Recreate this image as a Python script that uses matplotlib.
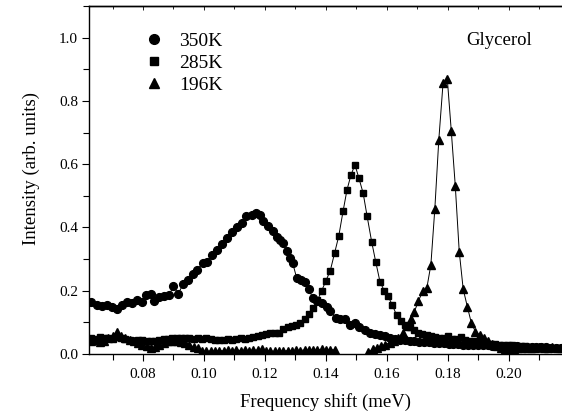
import numpy as np
import matplotlib.pyplot as plt
from matplotlib.lines import Line2D
from matplotlib.ticker import MultipleLocator, FormatStrFormatter

plt.rcParams['font.family'] = ['Liberation Serif', 'DejaVu Serif']

# 350K (circles)
x_350 = [0.0629, 0.0648, 0.0665, 0.0681, 0.0697, 0.0714, 0.0730, 0.0747, 0.0763, 0.0779,
         0.0796, 0.0810, 0.0825, 0.0836, 0.0853, 0.0870, 0.0886, 0.0899, 0.0916, 0.0932,
         0.0949, 0.0963, 0.0978, 0.0996, 0.1011, 0.1027, 0.1044, 0.1060, 0.1074, 0.1091,
         0.1107, 0.1124, 0.1138, 0.1156, 0.1170, 0.1183, 0.1195, 0.1211, 0.1225, 0.1238,
         0.1250, 0.1260, 0.1272, 0.1282, 0.1291, 0.1304, 0.1317, 0.1331, 0.1345, 0.1356,
         0.1370, 0.1386, 0.1404, 0.1413, 0.1433, 0.1446, 0.1462, 0.1479, 0.1495, 0.1509,
         0.1528, 0.1544, 0.1561, 0.1577, 0.1593, 0.1610, 0.1626, 0.1642, 0.1658, 0.1674,
         0.1690, 0.1706, 0.1722, 0.1738, 0.1754, 0.1770, 0.1786, 0.1802, 0.1818, 0.1834,
         0.1850, 0.1866, 0.1882, 0.1898, 0.1914, 0.1930, 0.1946, 0.1962, 0.1978, 0.1994,
         0.2010, 0.2026, 0.2042, 0.2058, 0.2074, 0.2090, 0.2106, 0.2122, 0.2138, 0.2154,
         0.2170]
y_350 = [0.164, 0.156, 0.151, 0.154, 0.149, 0.142, 0.156, 0.164, 0.161, 0.170,
         0.164, 0.186, 0.190, 0.169, 0.179, 0.182, 0.186, 0.214, 0.191, 0.222,
         0.235, 0.253, 0.267, 0.288, 0.291, 0.314, 0.330, 0.348, 0.367, 0.386,
         0.401, 0.415, 0.436, 0.439, 0.446, 0.440, 0.422, 0.405, 0.390, 0.369,
         0.360, 0.350, 0.325, 0.303, 0.287, 0.240, 0.234, 0.229, 0.205, 0.176,
         0.166, 0.160, 0.150, 0.137, 0.113, 0.110, 0.110, 0.092, 0.099, 0.086,
         0.076, 0.067, 0.063, 0.060, 0.057, 0.050, 0.046, 0.044, 0.043, 0.042,
         0.040, 0.039, 0.038, 0.037, 0.036, 0.035, 0.034, 0.033, 0.032, 0.031,
         0.030, 0.030, 0.029, 0.028, 0.027, 0.027, 0.026, 0.026, 0.025, 0.025,
         0.024, 0.024, 0.023, 0.023, 0.022, 0.022, 0.021, 0.021, 0.020, 0.020,
         0.019]

# 285K (squares)
x_285 = [0.0630, 0.0644, 0.0658, 0.0672, 0.0686, 0.0700, 0.0714, 0.0728, 0.0742, 0.0756,
         0.0770, 0.0784, 0.0798, 0.0812, 0.0826, 0.0840, 0.0854, 0.0868, 0.0882, 0.0896,
         0.0910, 0.0924, 0.0938, 0.0952, 0.0966, 0.0980, 0.0994, 0.1008, 0.1022, 0.1036,
         0.1050, 0.1064, 0.1078, 0.1092, 0.1106, 0.1120, 0.1134, 0.1148, 0.1162, 0.1176,
         0.1190, 0.1204, 0.1218, 0.1232, 0.1246, 0.1260, 0.1274, 0.1288, 0.1302, 0.1316,
         0.1330, 0.1344, 0.1358, 0.1372, 0.1386, 0.1400, 0.1414, 0.1428, 0.1442, 0.1456,
         0.1469, 0.1482, 0.1495, 0.1508, 0.1522, 0.1535, 0.1550, 0.1563, 0.1577, 0.1591,
         0.1604, 0.1618, 0.1632, 0.1646, 0.1660, 0.1674, 0.1688, 0.1702, 0.1716, 0.1730,
         0.1744, 0.1758, 0.1772, 0.1786, 0.1800, 0.1814, 0.1828, 0.1842, 0.1856, 0.1870,
         0.1884, 0.1898, 0.1912, 0.1926, 0.1940, 0.1954, 0.1968, 0.1982, 0.1996, 0.2010,
         0.2024, 0.2038, 0.2052, 0.2066, 0.2080, 0.2094, 0.2108, 0.2122, 0.2136, 0.2150,
         0.2164]
y_285 = [0.052, 0.048, 0.055, 0.050, 0.052, 0.048, 0.055, 0.050, 0.047, 0.045,
         0.042, 0.045, 0.043, 0.040, 0.042, 0.040, 0.045, 0.047, 0.048, 0.050,
         0.052, 0.050, 0.052, 0.050, 0.048, 0.050, 0.048, 0.050, 0.047, 0.045,
         0.043, 0.045, 0.047, 0.045, 0.048, 0.050, 0.048, 0.052, 0.055, 0.057,
         0.060, 0.062, 0.065, 0.065, 0.066, 0.078, 0.084, 0.088, 0.092, 0.099,
         0.110, 0.125, 0.145, 0.170, 0.200, 0.232, 0.263, 0.318, 0.373, 0.451,
         0.519, 0.566, 0.598, 0.556, 0.508, 0.435, 0.354, 0.292, 0.229, 0.200,
         0.182, 0.154, 0.122, 0.105, 0.092, 0.084, 0.076, 0.068, 0.064, 0.060,
         0.057, 0.055, 0.052, 0.050, 0.056, 0.048, 0.046, 0.055, 0.044, 0.042,
         0.040, 0.038, 0.036, 0.035, 0.033, 0.032, 0.030, 0.030, 0.028, 0.027,
         0.026, 0.025, 0.024, 0.023, 0.022, 0.022, 0.021, 0.020, 0.020, 0.019,
         0.018]

# 196K (triangles), gap where no points are shown
x_196 = [0.0630, 0.0644, 0.0658, 0.0672, 0.0686, 0.0700, 0.0714, 0.0728, 0.0742, 0.0756,
         0.0770, 0.0784, 0.0798, 0.0812, 0.0826, 0.0840, 0.0854, 0.0868, 0.0882, 0.0896,
         0.0910, 0.0924, 0.0938, 0.0952, 0.0966, 0.0980, 0.0994, 0.1008, 0.1022, 0.1036,
         0.1050, 0.1064, 0.1078, 0.1092, 0.1106, 0.1120, 0.1134, 0.1148, 0.1162, 0.1176,
         0.1190, 0.1204, 0.1218, 0.1232, 0.1246, 0.1260, 0.1274, 0.1288, 0.1302, 0.1316,
         0.1330, 0.1344, 0.1358, 0.1372, 0.1386, 0.1400, 0.1414, 0.1428, 0.1480,
         0.1539, 0.1553, 0.1567, 0.1581, 0.1595, 0.1609, 0.1623, 0.1637, 0.1651, 0.1665,
         0.1678, 0.1690, 0.1703, 0.1717, 0.1731, 0.1744, 0.1757, 0.1770, 0.1784, 0.1798,
         0.1811, 0.1824, 0.1837, 0.1850, 0.1864, 0.1877, 0.1890, 0.1904, 0.1918, 0.1932,
         0.1946, 0.1960, 0.1974, 0.1988, 0.2002, 0.2016, 0.2030, 0.2044, 0.2058, 0.2072,
         0.2086, 0.2100, 0.2114, 0.2128, 0.2142, 0.2156, 0.2170]
y_196 = [0.040, 0.045, 0.038, 0.042, 0.050, 0.056, 0.070, 0.058, 0.050, 0.045,
         0.040, 0.035, 0.030, 0.024, 0.018, 0.022, 0.030, 0.035, 0.040, 0.042,
         0.040, 0.038, 0.035, 0.030, 0.022, 0.018, 0.010, 0.008, 0.010, 0.009,
         0.011, 0.010, 0.012, 0.010, 0.013, 0.011, 0.012, 0.010, 0.013, 0.012,
         0.016, 0.011, 0.010, 0.008, 0.010, 0.009, 0.011, 0.010, 0.012, 0.011,
         0.013, 0.012, 0.014, 0.012, 0.015, 0.012, 0.014, 0.013, np.nan,
         0.007, 0.015, 0.020, 0.025, 0.030, 0.036, 0.042, 0.052, 0.065, 0.088,
         0.110, 0.134, 0.167, 0.198, 0.210, 0.282, 0.459, 0.677, 0.857, 0.868,
         0.704, 0.532, 0.324, 0.205, 0.148, 0.097, 0.071, 0.060, 0.050, 0.040,
         0.032, 0.025, 0.020, 0.017, 0.015, 0.016, 0.018, 0.019, 0.018, 0.020,
         0.019, 0.021, 0.020, 0.019, 0.021, 0.020, 0.020]

labels = ['350K', '285K', '196K']

fig = plt.figure(figsize=(5.62, 4.16), dpi=100)
ax = fig.add_axes([0.1584, 0.149, 0.8416, 0.8366])

ax.plot(x_350, y_350, color='black', lw=0.7, marker='o', ms=5.6, mec='black', mfc='black')
ax.plot(x_285, y_285, color='black', lw=0.7, marker='s', ms=4.5, mec='black', mfc='black')
ax.plot(x_196, y_196, color='black', lw=0.7, marker='^', ms=5.5, mec='black', mfc='black')

ax.set_xlim(0.0623, 0.2174)
ax.set_ylim(0, 1.1)
ax.xaxis.set_major_locator(MultipleLocator(0.02))
ax.xaxis.set_minor_locator(MultipleLocator(0.01))
ax.yaxis.set_major_locator(MultipleLocator(0.2))
ax.yaxis.set_minor_locator(MultipleLocator(0.1))
ax.xaxis.set_major_formatter(FormatStrFormatter('%.2f'))
ax.yaxis.set_major_formatter(FormatStrFormatter('%.1f'))

ax.tick_params(axis='both', which='both', direction='out', labelsize=11, width=0.8)
ax.tick_params(axis='both', which='major', length=5)
ax.tick_params(axis='both', which='minor', length=4)
ax.tick_params(axis='x', which='major', pad=5)
ax.tick_params(axis='y', which='major', pad=3)
ax.spines['right'].set_visible(False)
for s in ['left', 'bottom', 'top']:
    ax.spines[s].set_linewidth(1.0)

# small inward ticks on the top edge
top = ax.secondary_xaxis('top')
top.xaxis.set_major_locator(MultipleLocator(0.02))
top.xaxis.set_minor_locator(MultipleLocator(0.01))
top.tick_params(which='both', direction='in', labeltop=False, width=0.6)
top.tick_params(which='major', length=3)
top.tick_params(which='minor', length=2)
top.spines['top'].set_linewidth(1.0)

ax.set_xlabel('Frequency shift (meV)', fontsize=13.5, labelpad=9)
ax.set_ylabel('Intensity (arb. units)', fontsize=13.5)
ax.yaxis.set_label_coords(-0.104, 0.532)

handles = [Line2D([], [], ls='none', marker=m, ms=s, color='black')
           for m, s in zip(['o', 's', '^'], [7, 6, 7])]
ax.legend(handles, labels, loc='upper left', bbox_to_anchor=(0.08, 0.975), frameon=False,
          fontsize=14, handlelength=1.0, handletextpad=0.8, labelspacing=0.22)

ax.text(0.186, 0.99, 'Glycerol', fontsize=13.5, va='center', ha='left')

fig.savefig('out.png', dpi=100)
